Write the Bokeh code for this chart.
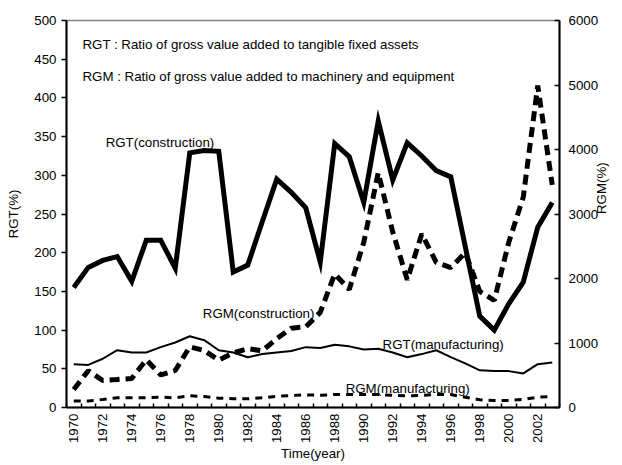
import math
from bokeh.plotting import figure
from bokeh.models import Range1d, LinearAxis, FixedTicker, Label
from bokeh.embed import file_html
from bokeh.resources import INLINE

years = list(range(1970, 2004))
rgt_construction = [155, 181, 190, 195, 163, 216, 216, 180, 329, 332,
                    331, 175, 184, 240, 295, 278, 258, 188, 341, 324,
                    265, 370, 294, 342, 325, 306, 298, 208, 118, 100,
                    134, 162, 233, 265]
rgm_construction = [280, 570, 419, 434, 450, 740, 505, 574, 940, 884,
                    735, 845, 912, 878, 1068, 1230, 1250, 1475, 2070, 1830,
                    2560, 3640, 2720, 1980, 2690, 2250, 2170, 2400, 1800, 1660,
                    2560, 3260, 4990, 3450]
rgt_manufacturing = [56, 55, 63, 74, 71, 71, 78, 84, 92, 87,
                     74, 71, 65, 69, 71, 73, 78, 77, 81, 79,
                     75, 76, 71, 65, 69, 74, 65, 57, 48, 47,
                     47, 44, 56, 58]
rgm_manufacturing = [100, 100, 124, 150, 150, 150, 160, 150, 181, 170,
                     145, 135, 135, 150, 175, 186, 196, 190, 201, 200,
                     200, 200, 190, 180, 190, 200, 200, 160, 119, 110,
                     110, 124, 160, 170]
left_ticks = [0, 50, 100, 150, 200, 250, 300, 350, 400, 450, 500]
right_ticks = [0, 1000, 2000, 3000, 4000, 5000, 6000]
year_labels = list(range(1970, 2003, 2))
year_bounds = [y - 0.5 for y in range(1970, 2005)]

FONT = "Liberation Sans"
FS = "13.3px"

p = figure(width=622, height=464, output_backend="svg", toolbar_location=None,
           x_range=Range1d(1969.5, 2003.5), y_range=Range1d(0, 500))
p.min_border_left = 66
p.min_border_right = 63
p.min_border_top = 20
p.min_border_bottom = 57
p.extra_y_ranges = {"rgm": Range1d(0, 6000)}
p.xgrid.visible = False
p.ygrid.visible = False
p.outline_line_color = "#808080"
p.outline_line_width = 1.5
p.background_fill_color = "white"
p.border_fill_color = "white"

# bottom axis
xa = p.xaxis[0]
xa.ticker = FixedTicker(ticks=year_labels, minor_ticks=year_bounds)
xa.major_label_orientation = math.pi / 2
xa.major_tick_in = 0
xa.major_tick_out = 0
xa.minor_tick_in = 4
xa.minor_tick_out = 0
xa.minor_tick_line_color = "black"
xa.minor_tick_line_width = 1.5
xa.axis_line_width = 2
xa.major_label_standoff = 6
xa.axis_label = "Time(year)"
xa.axis_label_standoff = 0

# left axis
ya = p.yaxis[0]
ya.ticker = FixedTicker(ticks=left_ticks)
ya.major_tick_out = 5
ya.major_tick_in = 0
ya.minor_tick_line_color = None
ya.axis_line_width = 2
ya.major_tick_line_width = 1.5
ya.axis_label = "RGT(%)"
ya.axis_label_standoff = 10

# right axis
ra = LinearAxis(y_range_name="rgm", ticker=FixedTicker(ticks=right_ticks),
                axis_label="RGM(%)")
ra.major_tick_in = 5
ra.major_tick_out = 0
ra.minor_tick_line_color = None
ra.axis_line_width = 2
ra.major_tick_line_width = 1.5
ra.major_label_standoff = 9
ra.axis_label_standoff = 0
ra.axis_label_orientation = math.pi / 2
p.add_layout(ra, "right")

for ax in (xa, ya, ra):
    ax.major_label_text_font = FONT
    ax.major_label_text_font_size = FS
    ax.major_label_text_color = "black"
    ax.axis_label_text_font = FONT
    ax.axis_label_text_font_size = FS
    ax.axis_label_text_font_style = "normal"
    ax.axis_label_text_color = "black"
    ax.major_tick_line_color = "black"
    ax.axis_line_color = "black"

p.line(years, rgt_manufacturing, line_color="black", line_width=2)
p.line(years, rgm_manufacturing, y_range_name="rgm", line_color="black",
       line_width=3, line_dash="7 6")
p.line(years, rgm_construction, y_range_name="rgm", line_color="black",
       line_width=5, line_dash="10 6")
p.line(years, rgt_construction, line_color="black", line_width=5,
       line_join="miter")

notes = [
    (1970.6, 469.6, "RGT : Ratio of gross value added to tangible fixed assets"),
    (1970.6, 427.6, "RGM : Ratio of gross value added to machinery and equipment"),
    (1972.2, 342.8, "RGT(construction)"),
    (1978.9, 121.0, "RGM(construction)"),
    (1991.3, 81.4, "RGT(manufacturing)"),
    (1988.75, 24.2, "RGM(manufacturing)"),
]
for x, y, t in notes:
    p.add_layout(Label(x=x, y=y, text=t, text_font=FONT, text_font_size=FS,
                       text_baseline="middle", text_align="left",
                       text_color="black"))

open("out.html", "w").write(file_html(p, INLINE))
